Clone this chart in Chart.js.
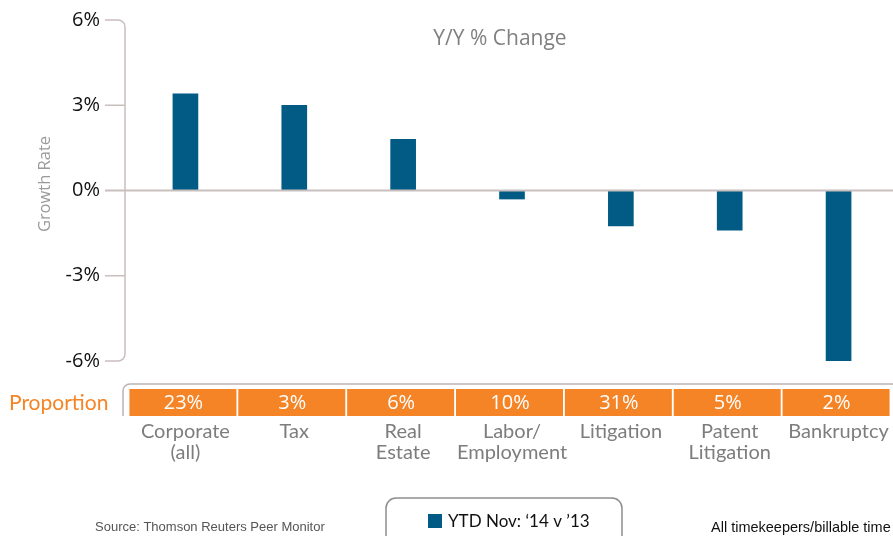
<!DOCTYPE html>
<html>
<head>
<meta charset="utf-8">
<script src="https://cdn.jsdelivr.net/npm/chart.js@4"></script>
<style>
  html, body { margin: 0; padding: 0; background: #fff; overflow: hidden; }
  #wrap { width: 893px; height: 536px; position: relative; }
</style>
</head>
<body>
<div id="wrap"><canvas id="barChart" width="893" height="536"></canvas></div>
<script>
// data
const categories = [['Corporate', '(all)'], ['Tax'], ['Real', 'Estate'], ['Labor/', 'Employment'], ['Litigation'], ['Patent', 'Litigation'], ['Bankruptcy']];
const growth = [3.4, 3.0, 1.8, -0.3, -1.25, -1.4, -6.0];
const proportion = ['23%', '3%', '6%', '10%', '31%', '5%', '2%'];
const yTicks = [-6, -3, 0, 3, 6];
const seriesName = 'YTD Nov: \u201814 v \u201913';

const BLUE = '#015b85';
const ORANGE = '#f58426';
const AXIS = '#c9bfbf';

// axis line, proportion row and the other bits around the plot
const extras = {
    id: 'extras',
    afterDraw(chart) {
        const ctx = chart.ctx;
        const x = chart.scales.x;
        const y = chart.scales.y;
        const yTop = y.getPixelForValue(6);
        const yBot = y.getPixelForValue(-6);
        const y0 = y.getPixelForValue(0);
        const ax = 125, r = 7;
        ctx.save();

        // y axis with rounded ends
        ctx.strokeStyle = AXIS;
        ctx.lineWidth = 1.5;
        ctx.beginPath();
        ctx.moveTo(105, yTop);
        ctx.arcTo(ax, yTop, ax, yTop + r, r);
        ctx.lineTo(ax, yBot - r);
        ctx.arcTo(ax, yBot, 105, yBot, r);
        ctx.lineTo(105, yBot);
        ctx.stroke();
        [3, -3].forEach(v => {
            const py = y.getPixelForValue(v);
            ctx.beginPath();
            ctx.moveTo(105, py);
            ctx.lineTo(ax, py);
            ctx.stroke();
        });
        // zero line
        ctx.lineWidth = 2;
        ctx.beginPath();
        ctx.moveTo(105, y0);
        ctx.lineTo(chart.width, y0);
        ctx.stroke();

        // title
        ctx.fillStyle = '#808080';
        ctx.font = '21px "Open Sans"';
        ctx.textAlign = 'center';
        ctx.textBaseline = 'middle';
        ctx.fillText('Y/Y % Change', 500, 39);

        // axis title
        ctx.save();
        ctx.translate(45, 184);
        ctx.rotate(-Math.PI / 2);
        ctx.fillStyle = '#9a9a9a';
        ctx.font = '16.5px "Open Sans"';
        ctx.fillText('Growth Rate', 0, 0);
        ctx.restore();

        // bracket over proportion row
        ctx.strokeStyle = '#bcb4b4';
        ctx.lineWidth = 1.5;
        ctx.beginPath();
        ctx.moveTo(123, 416);
        ctx.lineTo(123, 391);
        ctx.arcTo(123, 384, 131, 384, 7);
        ctx.lineTo(chart.width, 384);
        ctx.stroke();

        // proportion boxes
        ctx.font = '20px "Open Sans"';
        proportion.forEach((p, i) => {
            const cx = x.getPixelForValue(i);
            ctx.fillStyle = ORANGE;
            ctx.fillRect(cx - 56, 389, 107, 27);
            ctx.fillStyle = '#fff';
            ctx.fillText(p, cx - 2, 403);
        });
        ctx.fillStyle = ORANGE;
        ctx.font = '21px Lato';
        ctx.textAlign = 'left';
        ctx.fillText('Proportion', 9, 403);

        // legend box
        ctx.strokeStyle = '#8e8e8e';
        ctx.lineWidth = 1.5;
        ctx.beginPath();
        ctx.roundRect(386, 498, 236, 60, 10);
        ctx.stroke();
        ctx.fillStyle = BLUE;
        ctx.fillRect(428, 514, 14, 14);
        ctx.fillStyle = '#111';
        ctx.font = '17px Lato';
        ctx.fillText(seriesName, 448, 522);

        // footer notes
        ctx.font = '13px "Liberation Sans"';
        ctx.fillStyle = '#555';
        ctx.fillText('Source: Thomson Reuters Peer Monitor', 95, 527);
        ctx.fillStyle = '#111';
        ctx.font = '14.5px "Liberation Sans"';
        ctx.fillText('All timekeepers/billable time', 711, 528);
        ctx.restore();
    }
};

const ctx = document.getElementById('barChart').getContext('2d');
const chart = new Chart(ctx, {
    type: 'bar',
    data: {
        labels: categories,
        datasets: [{
            label: seriesName,
            data: growth,
            backgroundColor: BLUE,
            barThickness: 25
        }]
    },
    options: {
        responsive: false,
        animation: false,
        layout: { padding: { top: 20, left: 0, right: 0, bottom: 0 } },
        plugins: {
            legend: { display: false },
            title: { display: false },
            tooltip: { enabled: false }
        },
        scales: {
            x: {
                grid: { display: false, drawTicks: false },
                border: { display: false },
                ticks: {
                    color: '#7d7d7d',
                    font: { family: 'Lato', size: 20, lineHeight: 1.05 },
                    padding: 60,
                    autoSkip: false,
                    maxRotation: 0
                },
                afterFit(scale) {
                    scale.height = 175;
                    scale.paddingLeft = 0;
                    scale.paddingRight = 0;
                }
            },
            y: {
                min: -6,
                max: 6,
                afterBuildTicks(scale) { scale.ticks = yTicks.map(v => ({ value: v })); },
                grid: { display: false, drawTicks: false },
                border: { display: false },
                ticks: {
                    color: '#111',
                    font: { family: 'Open Sans', size: 20 },
                    padding: 31,
                    callback: v => v + '%'
                },
                afterFit(scale) {
                    scale.width = 131;
                    scale.paddingTop = 0;
                    scale.paddingBottom = 0;
                }
            }
        }
    },
    plugins: [extras]
});
</script>
</body>
</html>
